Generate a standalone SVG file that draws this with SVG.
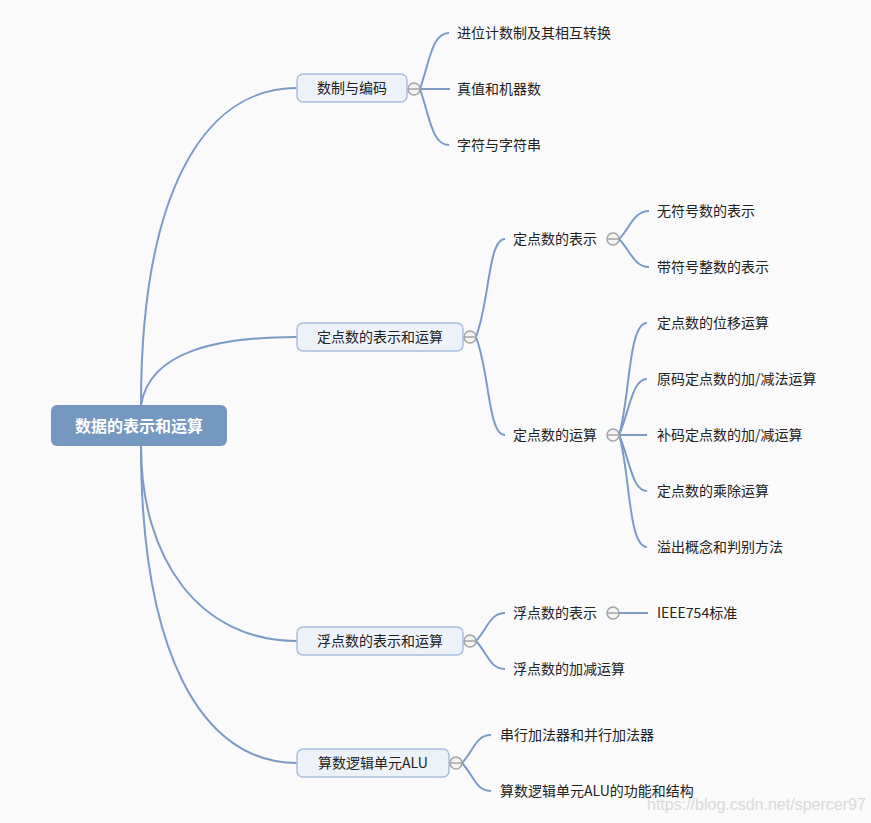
<svg xmlns="http://www.w3.org/2000/svg" width="871" height="823" viewBox="0 0 871 823">
<style>
.bg{fill:#fafafa}
.c{fill:none;stroke:#7b9bc6;stroke-width:2}
.n{fill:#edf1f8;stroke:#a9bedc;stroke-width:1.5}
.t{font-family:"Noto Sans CJK SC","Microsoft YaHei",sans-serif;font-size:14px;fill:#222}
.tm{text-anchor:middle}
.k{fill:#f4f4f4;stroke:#a4a4a4;stroke-width:1.5}
.km{stroke:#a4a4a4;stroke-width:1.5}
.root{fill:#7598c0}
.rt{font-family:"Noto Sans CJK SC","Microsoft YaHei",sans-serif;font-size:16px;font-weight:bold;fill:#fff;text-anchor:middle}
.wm{font-family:"Liberation Sans",Arial,sans-serif;font-size:16px;fill:#d9d9d9}
</style>
<defs>
<g id="tog"><circle r="6" class="k"/><line x1="-6" y1="0" x2="6" y2="0" class="km"/></g>
</defs>
<rect class="bg" x="0" y="0" width="871" height="823"/>
<g id="connectors">
<path class="c" d="M141,405 C141,200 200,88 297,88"/>
<path class="c" d="M141,405 C150,350 220,337 297,337"/>
<path class="c" d="M141,446 C141,560 200,641 297,641"/>
<path class="c" d="M141,446 C141,650 200,763 297,763"/>
<path class="c" d="M420,89 C430,60 432,33 449,33"/>
<path class="c" d="M420,89 L450,89"/>
<path class="c" d="M420,89 C430,118 432,145 449,145"/>
<path class="c" d="M476,337 C490,300 488,239 505,239"/>
<path class="c" d="M476,337 C490,374 488,435 505,435"/>
<path class="c" d="M619,239 C630,228 634,211 649,211"/>
<path class="c" d="M619,239 C630,250 634,267 649,267"/>
<path class="c" d="M619,435 C630,400 628,323 647,323"/>
<path class="c" d="M619,435 C630,410 632,379 647,379"/>
<path class="c" d="M619,435 L647,435"/>
<path class="c" d="M619,435 C630,460 632,491 647,491"/>
<path class="c" d="M619,435 C630,470 628,547 647,547"/>
<path class="c" d="M476,641 C488,628 490,613 505,613"/>
<path class="c" d="M476,641 C488,654 490,669 505,669"/>
<path class="c" d="M619,613 L648,613"/>
<path class="c" d="M462,763 C474,750 476,735 491,735"/>
<path class="c" d="M462,763 C474,776 476,791 491,791"/>
</g>
<g id="root"><rect class="root" x="51" y="405" width="176" height="41" rx="6"/><text class="rt" x="139" y="432">数据的表示和运算</text></g>
<g id="n1"><rect class="n" x="297" y="74" width="110" height="28" rx="6"/><text class="t tm" x="352" y="93">数制与编码</text><use href="#tog" x="414" y="89"/></g>
<g id="n1a"><text class="t" x="457" y="38">进位计数制及其相互转换</text></g>
<g id="n1b"><text class="t" x="457" y="94">真值和机器数</text></g>
<g id="n1c"><text class="t" x="457" y="150">字符与字符串</text></g>
<g id="n2"><rect class="n" x="297" y="323" width="166" height="28" rx="6"/><text class="t tm" x="380" y="342">定点数的表示和运算</text><use href="#tog" x="470" y="337"/></g>
<g id="n2a"><text class="t" x="513" y="244">定点数的表示</text><use href="#tog" x="613" y="239"/></g>
<g id="n2a1"><text class="t" x="657" y="216">无符号数的表示</text></g>
<g id="n2a2"><text class="t" x="657" y="272">带符号整数的表示</text></g>
<g id="n2b"><text class="t" x="513" y="440">定点数的运算</text><use href="#tog" x="613" y="435"/></g>
<g id="n2b1"><text class="t" x="657" y="328">定点数的位移运算</text></g>
<g id="n2b2"><text class="t" x="657" y="384">原码定点数的加/减法运算</text></g>
<g id="n2b3"><text class="t" x="657" y="440">补码定点数的加/减运算</text></g>
<g id="n2b4"><text class="t" x="657" y="496">定点数的乘除运算</text></g>
<g id="n2b5"><text class="t" x="657" y="552">溢出概念和判别方法</text></g>
<g id="n3"><rect class="n" x="297" y="627" width="166" height="28" rx="6"/><text class="t tm" x="380" y="646">浮点数的表示和运算</text><use href="#tog" x="470" y="641"/></g>
<g id="n3a"><text class="t" x="513" y="618">浮点数的表示</text><use href="#tog" x="613" y="613"/></g>
<g id="n3a1"><text class="t" x="657" y="618">IEEE754标准</text></g>
<g id="n3b"><text class="t" x="513" y="674">浮点数的加减运算</text></g>
<g id="n4"><rect class="n" x="297" y="749" width="152" height="28" rx="6"/><text class="t tm" x="373" y="768">算数逻辑单元ALU</text><use href="#tog" x="456" y="763"/></g>
<g id="n4a"><text class="t" x="500" y="740">串行加法器和并行加法器</text></g>
<g id="n4b"><text class="t" x="500" y="796">算数逻辑单元ALU的功能和结构</text></g>
<text class="wm" x="647" y="810">https://blog.csdn.net/spercer97</text>
</svg>
